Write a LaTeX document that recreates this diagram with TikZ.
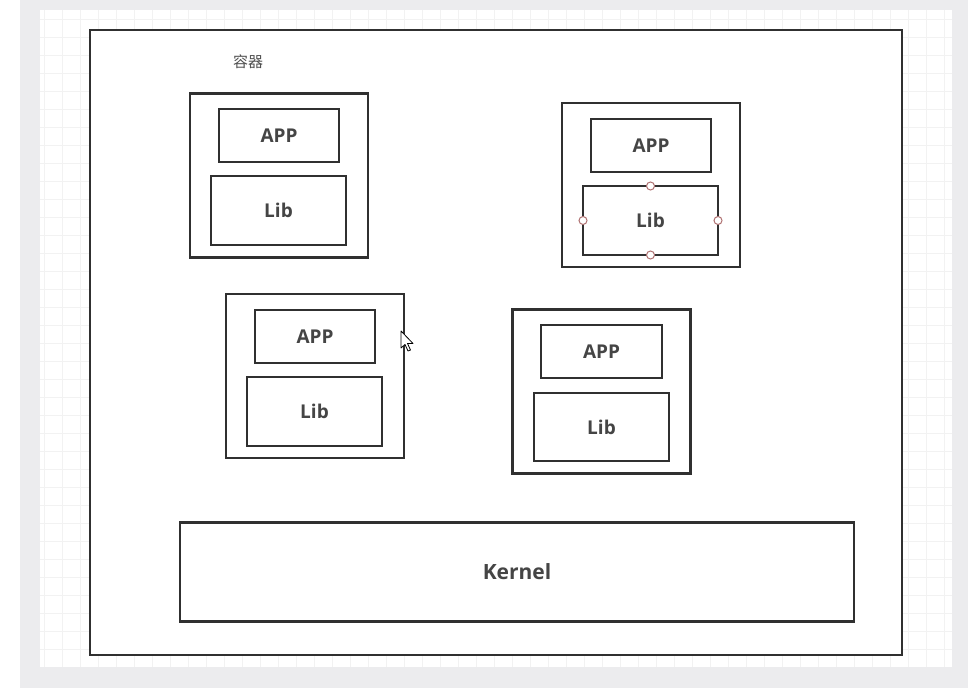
\documentclass[tikz,border=0pt]{standalone}
\usepackage{fontspec}
\setmainfont{Open Sans}
\newfontfamily\cjk{Noto Sans CJK SC}
\definecolor{ink}{HTML}{303030}
\definecolor{frame}{HTML}{ECECEE}
\definecolor{gridline}{HTML}{F2F2F2}
\definecolor{handle}{HTML}{B07272}
\tikzset{
  box/.style={draw=ink,line width=2.2pt,fill=white,inner sep=0pt,outer sep=0pt},
  ctr/.style={box,minimum width=178pt,minimum height=164pt},
  appbox/.style={box,minimum width=120pt,minimum height=53pt,font=\fontsize{19}{19}\selectfont\bfseries,text=ink!90},
  libbox/.style={box,minimum width=135pt,minimum height=69pt,font=\fontsize{19}{19}\selectfont\bfseries,text=ink!90},
  knob/.style={circle,draw=handle,fill=white,line width=1pt,minimum size=8pt,inner sep=0pt}
}
\begin{document}
\begin{tikzpicture}[x=1pt,y=-1pt]
        \useasboundingbox (0,0) rectangle (973,700);
        % screen background
        \fill[frame](20,0) rectangle (968,688);
        \fill[white](40,10) rectangle (952,667);
        \foreach \gx in {44,62,...,950} \draw[gridline,line width=0.6pt](\gx,10)--(\gx,667);
        \foreach \gy in {19,37,...,666} \draw[gridline,line width=0.6pt](40,\gy)--(952,\gy);

        % host
        \node[box,minimum width=812pt,minimum height=625pt](host) at (496,342.5){};
        \node[text=ink!85,font=\cjk\fontsize{15}{15}\selectfont](lbl) at (248,62){容器};

        % containers
        \node[ctr](c1) at (279,175.5){};
        \node[appbox](app1) at (279,135.5){APP};
        \node[libbox](lib1) at (278.5,210.5){Lib};

        \node[ctr](c2) at (651,185){};
        \node[appbox](app2) at (651,145.5){APP};
        \node[libbox](lib2) at (650.5,220.5){Lib};
        \foreach \a in {north,south,east,west} \node[knob] at (lib2.\a){};

        \node[ctr](c3) at (315,376){};
        \node[appbox](app3) at (315,336.5){APP};
        \node[libbox](lib3) at (314.5,411.5){Lib};

        \node[ctr](c4) at (601.5,391.5){};
        \node[appbox,minimum width=121pt](app4) at (601.5,351.5){APP};
        \node[libbox,minimum height=68pt](lib4) at (601.5,427){Lib};

        % kernel
        \node[box,minimum width=674pt,minimum height=99pt,font=\fontsize{21}{21}\selectfont\bfseries,text=ink!90](kernel) at (517,572){Kernel};

        % mouse pointer
        \draw[black,fill=white,line width=0.8pt,line join=round](401,331)--(401,348)--(405,344.5)--(408,351)--(410.5,350)--(407.5,343.5)--(413,343.5)--cycle;
    \end{tikzpicture}
\end{document}
